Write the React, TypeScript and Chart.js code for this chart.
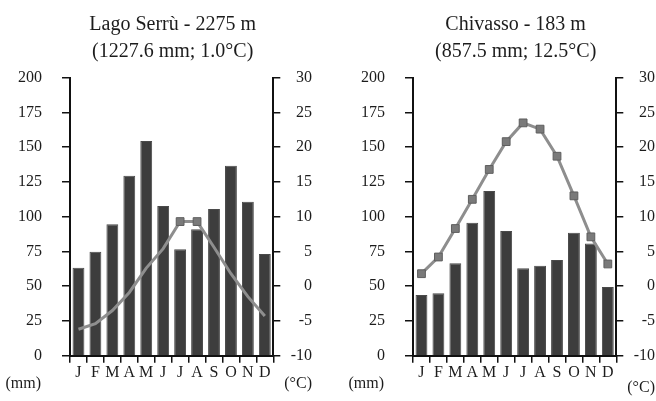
import React, { useEffect, useRef } from "react";
import { Chart, registerables } from "chart.js";

Chart.register(...registerables);

const MONTHS = ["J", "F", "M", "A", "M", "J", "J", "A", "S", "O", "N", "D"];

const SERRU_TITLE = ["Lago Serrù - 2275 m", "(1227.6 mm; 1.0°C)"];
const SERRU_PRECIP = [63.3, 74.8, 94.5, 129.5, 154.5, 107.7, 76.5, 91, 105.5, 136.7, 110.8, 73.2];
const SERRU_TEMP = [-6.2, -5.4, -3.5, -0.9, 2.6, 5.4, 9.3, 9.3, 5.6, 1.8, -1.5, -4.3];

const CHIVASSO_TITLE = ["Chivasso - 183 m", "(857.5 mm; 12.5°C)"];
const CHIVASSO_PRECIP = [43.7, 44.9, 66.5, 95.7, 118.5, 89.8, 62.9, 64.7, 68.8, 88.5, 80.8, 49.5];
const CHIVASSO_TEMP = [1.8, 4.2, 8.3, 12.5, 16.8, 20.8, 23.5, 22.6, 18.7, 13.0, 7.1, 3.2];

const PRECIP_MIN = 0;
const PRECIP_MAX = 200;
const PRECIP_STEP = 25;
const TEMP_MIN = -10;
const TEMP_MAX = 30;
const TEMP_STEP = 5;

const FONT = "'Liberation Serif', 'Times New Roman', serif";
const INK = "#1c1c1c";

type Props = {
  title: string[];
  precip: number[];
  temp: number[];
  width: number;
  padRight: number;
  markerRadius: number[] | number;
  unitY: number;
};

function ClimateChart({ title, precip, temp, width, padRight, markerRadius, unitY }: Props) {
  const ref = useRef<HTMLCanvasElement | null>(null);
  useEffect(() => {
    if (!ref.current) return;
    const textPlugin = {
      id: "texts",
      afterDraw(chart: any) {
        const ctx = chart.ctx;
        const ca = chart.chartArea;
        const cx = (ca.left + ca.right) / 2;
        ctx.save();
        ctx.fillStyle = INK;
        ctx.textBaseline = "middle";
        ctx.textAlign = "center";
        ctx.font = `20px ${FONT}`;
        ctx.fillText(title[0], cx + 1, 25);
        ctx.fillText(title[1], cx + 1, 52);
        ctx.font = `16px ${FONT}`;
        ctx.textAlign = "right";
        ctx.fillText("(mm)", 41, 384);
        ctx.fillText("(°C)", chart.scales.y1.right, unitY);
        ctx.restore();
      },
    };
    const chart = new Chart(ref.current, {
      type: "bar",
      data: {
        labels: MONTHS,
        datasets: [
          {
            type: "line",
            data: temp,
            yAxisID: "y1",
            order: 0,
            borderColor: "#8e8e8e",
            borderWidth: 3,
            tension: 0,
            pointStyle: "rect",
            pointRadius: markerRadius as any,
            pointBackgroundColor: "#7a7a7a",
            pointBorderColor: "#5e5e5e",
            pointBorderWidth: 1,
          } as any,
          {
            type: "bar",
            data: precip,
            yAxisID: "y",
            order: 1,
            backgroundColor: "#3d3d3d",
            borderColor: "#4a4a4a",
            borderWidth: 1,
            categoryPercentage: 1,
            barPercentage: 0.7,
          } as any,
        ],
      },
      options: {
        responsive: false,
        animation: false,
        devicePixelRatio: 1,
        layout: { padding: { top: 77.7, left: 0, right: padRight, bottom: 0 } },
        plugins: { legend: { display: false }, tooltip: { enabled: false }, title: { display: false } },
        scales: {
          x: {
            position: "bottom",
            afterFit: (s: any) => {
              s.height = 45.3;
            },
            grid: { drawOnChartArea: false, drawTicks: true, tickLength: 7, color: "#111", lineWidth: 1.5, offset: true },
            border: { display: true, color: "#111", width: 2 },
            ticks: { font: { family: FONT, size: 16 }, color: INK, padding: 0, maxRotation: 0, autoSkip: false },
          },
          y: {
            position: "left",
            min: PRECIP_MIN,
            max: PRECIP_MAX,
            afterFit: (s: any) => {
              s.width = 70;
            },
            grid: { drawOnChartArea: false, drawTicks: true, tickLength: 8, color: "#111", lineWidth: 1.5 },
            border: { display: true, color: "#111", width: 2 },
            ticks: { stepSize: PRECIP_STEP, font: { family: FONT, size: 16 }, color: INK, padding: 20 },
          },
          y1: {
            position: "right",
            min: TEMP_MIN,
            max: TEMP_MAX,
            afterFit: (s: any) => {
              s.width = 38.7;
            },
            grid: { drawOnChartArea: false, drawTicks: true, tickLength: 7, color: "#111", lineWidth: 1.5 },
            border: { display: true, color: "#111", width: 2 },
            ticks: { stepSize: TEMP_STEP, font: { family: FONT, size: 16 }, color: INK, padding: 6, crossAlign: "far" },
          },
        },
      } as any,
      plugins: [textPlugin],
    });
    return () => chart.destroy();
  }, []);
  return <canvas ref={ref} width={width} height={401} style={{ display: "block" }} />;
}

export default function App() {
  return (
    <div
      style={{
        position: "fixed",
        left: 0,
        top: 0,
        width: 656,
        height: 401,
        overflow: "hidden",
        background: "#ffffff",
      }}
    >
      <div style={{ position: "absolute", left: 0, top: 0, width: 343, height: 401 }}>
        <ClimateChart
          title={SERRU_TITLE}
          precip={SERRU_PRECIP}
          temp={SERRU_TEMP}
          width={343}
          padRight={31}
          markerRadius={[0, 0, 0, 0, 0, 0, 5.5, 5.5, 0, 0, 0, 0]}
          unitY={384}
        />
      </div>
      <div style={{ position: "absolute", left: 343, top: 0, width: 313, height: 401 }}>
        <ClimateChart
          title={CHIVASSO_TITLE}
          precip={CHIVASSO_PRECIP}
          temp={CHIVASSO_TEMP}
          width={313}
          padRight={1}
          markerRadius={5.5}
          unitY={388}
        />
      </div>
    </div>
  );
}
